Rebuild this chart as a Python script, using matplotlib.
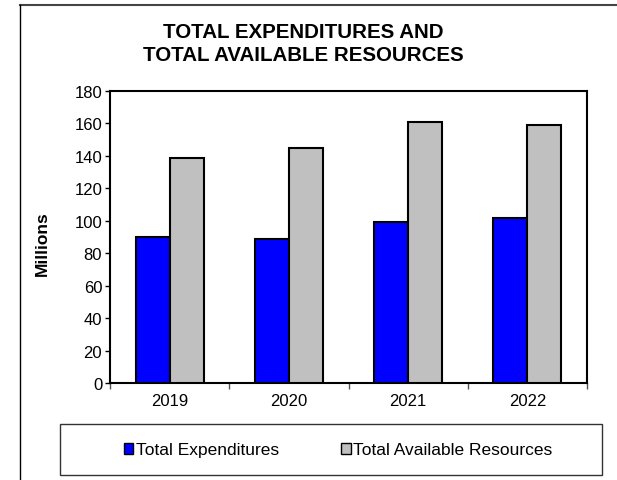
import matplotlib
matplotlib.use("Agg")
import matplotlib.pyplot as plt
from matplotlib.lines import Line2D
from matplotlib.patches import Rectangle, Patch

plt.rcParams['font.family'] = ['Liberation Sans', 'DejaVu Sans']

years = ['2019', '2020', '2021', '2022']
expenditures = [90, 89, 99, 102]
available = [139, 145, 161, 159]
series_names = ['Total Expenditures', 'Total Available Resources']
y_ticks = [0, 20, 40, 60, 80, 100, 120, 140, 160, 180]

W, H = 617, 481
fig = plt.figure(figsize=(W / 100, H / 100), dpi=100)

# plot area in pixel terms
left, right, top, bottom = 110, 587, 92, 384
ax = fig.add_axes([left / W, 1 - bottom / H, (right - left) / W, (bottom - top) / H])

bw = 0.285
xs = range(len(years))
ax.bar([x - bw / 2 for x in xs], expenditures, width=bw, color='#0000FF',
       edgecolor='black', linewidth=1.5, zorder=3)
ax.bar([x + bw / 2 for x in xs], available, width=bw, color='#C0C0C0',
       edgecolor='black', linewidth=1.5, zorder=3)

ax.set_xlim(-0.5, len(years) - 0.5)
ax.set_ylim(0, 180)
ax.set_yticks(y_ticks)
ax.tick_params(axis='y', direction='out', length=3.6, width=1, pad=2, labelsize=12)

# category boundaries get the tick marks, the year labels sit between them
ax.set_xticks([x - 0.5 for x in range(len(years) + 1)])
ax.set_xticklabels([])
ax.set_xticks(list(xs), minor=True)
ax.set_xticklabels(years, minor=True)
ax.tick_params(axis='x', which='major', direction='out', length=4, width=1, color='#555555')
ax.tick_params(axis='x', which='minor', length=0, pad=7, labelsize=12)

for s in ax.spines.values():
    s.set_linewidth(1.5)
    s.set_color('black')

# title and axis label
fig.text(303 / W, 1 - 38 / H, 'TOTAL EXPENDITURES AND', ha='center', va='baseline',
         fontsize=14.8, fontweight='bold')
fig.text(303 / W, 1 - 61 / H, 'TOTAL AVAILABLE RESOURCES', ha='center', va='baseline',
         fontsize=14.8, fontweight='bold')
fig.text(42 / W, 1 - 244 / H, 'Millions', rotation=90, ha='center', va='center',
         fontsize=12.5, fontweight='bold')

# outer frame lines along top and left
fig.add_artist(Line2D([20 / W, 1], [1 - 6 / H, 1 - 6 / H], color='#444444', linewidth=1.5))
fig.add_artist(Line2D([20 / W, 20 / W], [1 - 6 / H, 0], color='black', linewidth=1))

# legend box
fig.add_artist(Rectangle((60 / W, 1 - 476 / H), (602 - 60) / W, (476 - 425) / H,
                         transform=fig.transFigure, facecolor='white',
                         edgecolor='#333333', linewidth=1))
handles = [Patch(facecolor='#0000FF', edgecolor='black', linewidth=1),
           Patch(facecolor='#C0C0C0', edgecolor='black', linewidth=1)]
fig.legend(handles, series_names, loc='center', bbox_to_anchor=(338 / W, 1 - 451 / H),
           ncol=2, frameon=False, fontsize=12.5, handlelength=0.55, handleheight=0.55,
           handletextpad=0.12, columnspacing=3.6, borderpad=0)

fig.savefig('out.png', dpi=100)
